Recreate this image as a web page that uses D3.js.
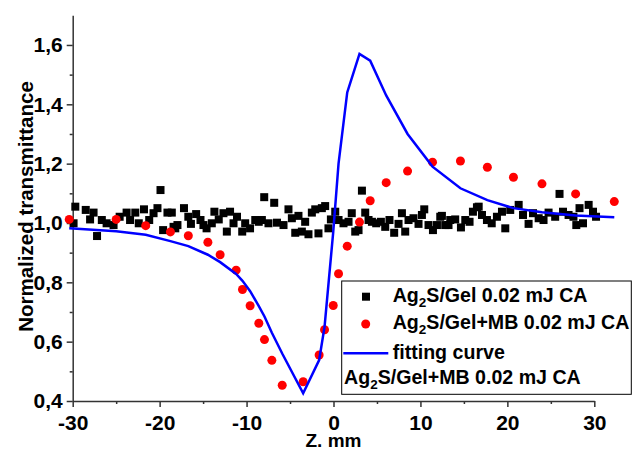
<!DOCTYPE html>
<html>
<head>
<meta charset="utf-8">
<script src="https://cdn.jsdelivr.net/npm/d3@7"></script>
<style>
  body { margin: 0; background: #fff; }
  svg { display: block; font-family: "Liberation Sans", Arial, sans-serif; font-weight: bold; }
</style>
</head>
<body>
<div id="chart"></div>
<script>
// Ag2S/Gel 0.02 mJ CA (black squares)
const blackZ = [-29.9, -29.7, -28.5, -28.0, -27.6, -27.2, -26.65, -26.1, -25.3, -24.6,
  -23.8, -23.4, -22.8, -22.4, -21.8, -21.2, -20.7, -20.25, -19.9, -19.6,
  -19.1, -18.6, -18.4, -18.2, -17.95, -17.2, -16.7, -16.4, -15.8, -15.3,
  -14.96, -14.6, -14.0, -13.7, -13.2, -12.66, -12.27, -11.9, -11.5, -11.1,
  -10.5, -10.16, -9.6, -9.0, -8.6, -8.24, -7.97, -7.48, -6.82, -6.5,
  -5.75, -5.18, -4.79, -4.4, -4.03, -3.64, -3.26, -2.88, -2.49, -2.1,
  -1.73, -1.34, -0.96, -0.58, -0.3, 0.2, 0.58, 1.15, 1.73, 2.1,
  2.5, 2.88, 3.27, 3.65, 4.03, 4.42, 4.91, 5.45, 5.95, 6.44,
  6.98, 7.48, 7.87, 8.25, 8.63, 9.2, 9.78, 10.17, 10.44, 10.93,
  11.44, 11.9, 12.28, 12.47, 12.85, 13.23, 13.43, 14.0, 14.66, 15.16,
  15.65, 16.04, 16.5, 16.7, 17.08, 17.65, 18.2, 18.8, 19.38, 19.76,
  20.33, 21.3, 21.8, 22.44, 22.95, 23.6, 24.16, 24.74, 25.5, 26.0,
  26.4, 27.04, 27.6, 27.93, 28.3, 28.7, 29.35, 29.85, 30.2];
const blackT = [0.999, 1.055, 1.044, 1.012, 1.035, 0.956, 1.010, 0.999, 0.993, 1.021,
  1.035, 1.010, 1.035, 0.999, 1.046, 1.010, 1.033, 1.050, 1.111, 0.976,
  1.035, 1.035, 0.987, 0.982, 0.993, 1.050, 1.021, 0.997, 1.030, 1.010,
  0.993, 0.982, 0.999, 1.038, 1.012, 1.033, 0.971, 1.038, 0.999, 1.021,
  0.971, 0.999, 0.982, 1.010, 1.004, 1.010, 1.087, 0.999, 1.068, 1.001,
  0.993, 1.046, 1.016, 0.967, 1.024, 0.971, 1.004, 0.962, 1.035, 1.046,
  0.965, 1.050, 1.057, 0.982, 1.012, 1.038, 1.010, 0.999, 1.004, 1.033,
  0.971, 0.976, 1.109, 1.035, 1.010, 1.004, 0.999, 1.004, 0.987, 1.010,
  0.967, 0.997, 1.033, 0.971, 1.010, 1.016, 0.997, 1.027, 1.046, 0.993,
  0.976, 0.993, 1.021, 1.024, 0.993, 0.993, 1.010, 1.012, 0.985, 1.010,
  1.004, 1.038, 1.053, 1.055, 1.027, 1.010, 0.999, 1.021, 1.038, 0.982,
  1.044, 1.061, 1.027, 0.997, 1.033, 1.016, 1.010, 1.035, 1.021, 1.098,
  1.038, 1.027, 1.021, 0.993, 1.050, 0.999, 1.061, 1.038, 1.021];

// Ag2S/Gel+MB 0.02 mJ CA (red circles) and fitting curve at the same Z
const redZ = [-30.4, -25.0, -21.6, -18.76, -16.7, -14.45, -13.04, -11.2, -10.47, -9.59,
  -8.59, -7.94, -7.09, -5.9, -3.49, -1.65, -1.03, -0.03, 0.58, 1.58,
  2.99, 4.22, 6.06, 8.52, 11.39, 14.6, 17.7, 20.7, 23.98, 27.85, 32.3];
const redT = [1.012, 1.012, 0.991, 0.970, 0.957, 0.935, 0.893, 0.841, 0.776, 0.721,
  0.662, 0.607, 0.537, 0.453, 0.465, 0.555, 0.640, 0.722, 0.829, 0.922,
  1.003, 1.075, 1.136, 1.175, 1.205, 1.209, 1.188, 1.154, 1.132, 1.098, 1.072];
const fitT = [0.982, 0.972, 0.960, 0.939, 0.922, 0.893, 0.868, 0.828, 0.805, 0.770,
  0.720, 0.685, 0.630, 0.560, 0.426, 0.538, 0.650, 0.970, 1.200, 1.440,
  1.570, 1.547, 1.430, 1.300, 1.190, 1.117, 1.077, 1.050, 1.036, 1.025, 1.019];

const xMajor = [-30, -20, -10, 0, 10, 20, 30];
const xMinor = [-25, -15, -5, 5, 15, 25];
const yMajor = [0.4, 0.6, 0.8, 1.0, 1.2, 1.4, 1.6];
const yMinor = [0.5, 0.7, 0.9, 1.1, 1.3, 1.5];

const legendLabels = ["Ag2S/Gel 0.02 mJ CA", "Ag2S/Gel+MB 0.02 mJ CA", "fitting curve", "Ag2S/Gel+MB 0.02 mJ CA"];

const width = 632, height = 450;
const axisColor = "#333";

const svg = d3.select("#chart").append("svg")
  .attr("width", width)
  .attr("height", height);

const x = d3.scaleLinear().domain([-30, 30]).range([72.7, 594.3]);
const y = d3.scaleLinear().domain([0.4, 1.7]).range([401, 15.3]);

const commaFmt = (d) => d3.format(".1f")(d).replace(".", ",");

// axes
const gx = svg.append("g").attr("transform", `translate(0, ${y(0.4)})`);
gx.call(d3.axisBottom(x).tickValues(xMajor).tickSize(6).tickSizeOuter(0).tickPadding(8).tickFormat(d3.format("d")));
const gxMinor = svg.append("g").attr("transform", `translate(0, ${y(0.4)})`);
gxMinor.call(d3.axisBottom(x).tickValues(xMinor).tickSize(3).tickFormat(""));
gxMinor.select(".domain").remove();

const gy = svg.append("g").attr("transform", `translate(${x(-30)}, 0)`);
gy.call(d3.axisLeft(y).tickValues(yMajor).tickSize(6).tickSizeOuter(0).tickPadding(4).tickFormat(commaFmt));
const gyMinor = svg.append("g").attr("transform", `translate(${x(-30)}, 0)`);
gyMinor.call(d3.axisLeft(y).tickValues(yMinor).tickSize(3).tickFormat(""));
gyMinor.select(".domain").remove();

svg.selectAll(".domain").attr("stroke", axisColor).attr("stroke-width", 1.5);
svg.selectAll(".tick line").attr("stroke", axisColor).attr("stroke-width", 1.5);
svg.selectAll(".tick text")
  .attr("fill", "#000")
  .style("font-size", "21px")
  .style("font-family", "'Liberation Sans', Arial, sans-serif")
  .style("font-weight", "bold");
// d3 uses a real minus; the original shows a hyphen
gx.selectAll(".tick text").text((d) => String(d));

// axis titles
svg.append("text")
  .attr("transform", "rotate(-90)")
  .attr("x", -206.5)
  .attr("y", 33)
  .attr("text-anchor", "middle")
  .style("font-size", "20.5px")
  .text("Normalized transmittance");

svg.append("text")
  .attr("x", (x(-30) + x(30)) / 2)
  .attr("y", 446.5)
  .attr("text-anchor", "middle")
  .style("font-size", "19px")
  .text("Z. mm");

// data
const sq = 8;
svg.append("g")
  .selectAll("rect")
  .data(blackZ.map((z, i) => [z, blackT[i]]))
  .join("rect")
  .attr("x", (d) => x(d[0]) - sq / 2)
  .attr("y", (d) => y(d[1]) - sq / 2)
  .attr("width", sq)
  .attr("height", sq)
  .attr("fill", "#000");

svg.append("g")
  .selectAll("circle")
  .data(redZ.map((z, i) => [z, redT[i]]))
  .join("circle")
  .attr("cx", (d) => x(d[0]))
  .attr("cy", (d) => y(d[1]))
  .attr("r", 4.5)
  .attr("fill", "#ff0000");

const line = d3.line()
  .x((d) => x(d[0]))
  .y((d) => y(d[1]));

svg.append("path")
  .datum(redZ.map((z, i) => [z, fitT[i]]))
  .attr("d", line)
  .attr("fill", "none")
  .attr("stroke", "#0000ff")
  .attr("stroke-width", 2.5)
  .attr("stroke-linejoin", "miter");

// legend
const legend = svg.append("g").attr("class", "legend");
legend.append("rect")
  .attr("x", 341.7)
  .attr("y", 281)
  .attr("width", 289.6)
  .attr("height", 113.3)
  .attr("fill", "#fff")
  .attr("stroke", "#000")
  .attr("stroke-width", 1);

legend.append("rect")
  .attr("x", 366 - sq / 2)
  .attr("y", 296.7 - sq / 2)
  .attr("width", sq)
  .attr("height", sq)
  .attr("fill", "#000");
legend.append("circle")
  .attr("cx", 365.7)
  .attr("cy", 324)
  .attr("r", 4.5)
  .attr("fill", "#ff0000");
legend.append("line")
  .attr("x1", 343.3)
  .attr("x2", 388.3)
  .attr("y1", 353.3)
  .attr("y2", 353.3)
  .attr("stroke", "#0000ff")
  .attr("stroke-width", 2.5);

const legendPos = [[392.7, 301.7], [392.7, 329.3], [392.7, 358.5], [344, 384.3]];

function addLabel(label, px, py) {
  const t = legend.append("text")
    .attr("x", px)
    .attr("y", py)
    .style("font-size", "19.6px");
  const idx = label.indexOf("Ag2S");
  if (idx === 0) {
    t.append("tspan").text("Ag");
    t.append("tspan").attr("dy", 5).style("font-size", "13.5px").text("2");
    t.append("tspan").attr("dy", -5).text(label.slice(3));
  } else {
    t.text(label);
  }
}

legendLabels.forEach((label, i) => addLabel(label, legendPos[i][0], legendPos[i][1]));
</script>
</body>
</html>
